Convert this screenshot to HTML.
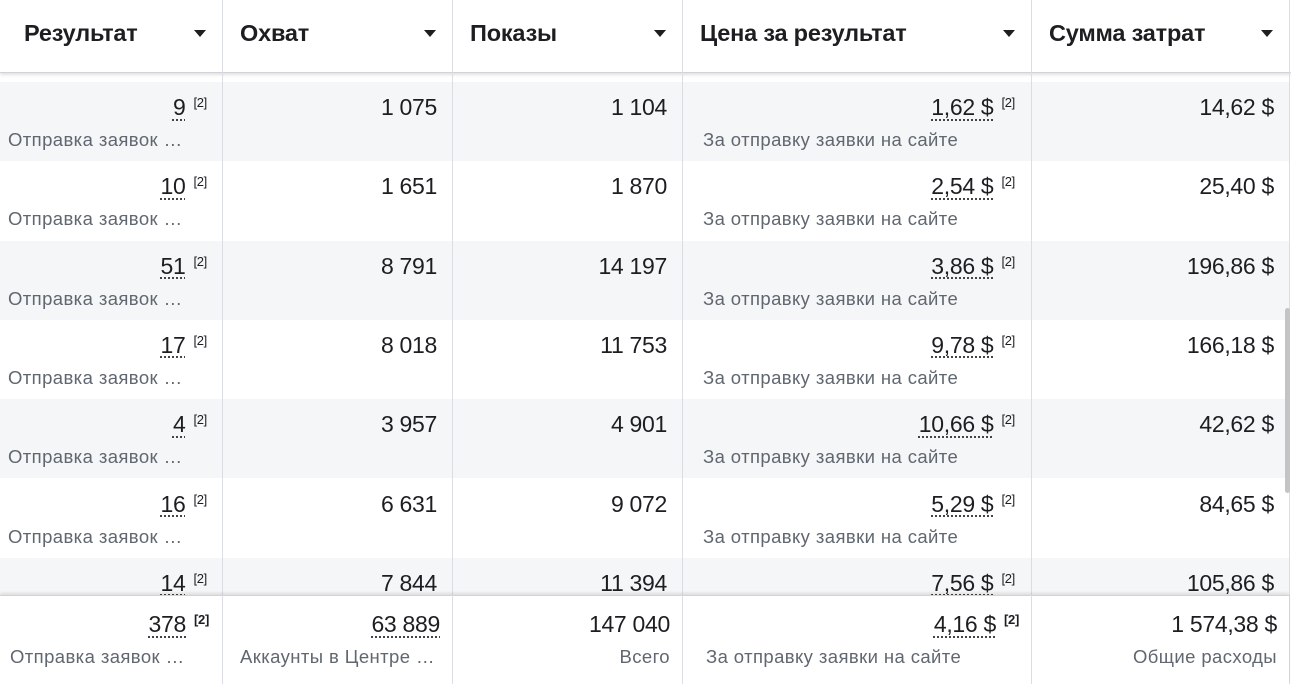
<!DOCTYPE html>
<html><head><meta charset="utf-8">
<style>
*{box-sizing:border-box;margin:0;padding:0}
body{width:1291px;height:684px;overflow:hidden;background:#fff;font-family:"Liberation Sans","Noto Sans CJK JP",sans-serif;color:#1c1e21;position:relative}
.abs{position:absolute}
.hdr{position:absolute;top:0;height:73px;font-weight:bold;font-size:23.5px;line-height:66px;padding-left:18px;border-right:1px solid #dadde1;letter-spacing:-0.2px}
.caret{position:absolute;top:30px;width:0;height:0;border-left:6px solid transparent;border-right:6px solid transparent;border-top:7px solid #1c1e21}
.vline{position:absolute;width:1px;background:#dadde1}
.num{position:absolute;font-size:23px;line-height:26px;text-align:right;white-space:nowrap;letter-spacing:-0.3px}
.u{text-decoration:underline dotted #444;text-decoration-thickness:2px;text-underline-offset:4px}
.sup{font-size:13px;position:relative;top:-8px;margin-left:8px}
.sub{position:absolute;font-size:18.5px;line-height:22px;color:#606770;white-space:nowrap;overflow:hidden;text-overflow:ellipsis;letter-spacing:0.4px}
</style></head><body>
<div class="abs" style="left:0;top:0;width:1291px;height:684px"></div>
<script>
const results=["9","10","51","17","4","16","14"];
const reach=["1 075","1 651","8 791","8 018","3 957","6 631","7 844"];
const impressions=["1 104","1 870","14 197","11 753","4 901","9 072","11 394"];
const cpr=["1,62 $","2,54 $","3,86 $","9,78 $","10,66 $","5,29 $","7,56 $"];
const spend=["14,62 $","25,40 $","196,86 $","166,18 $","42,62 $","84,65 $","105,86 $"];
const headers=["Результат","Охват","Показы","Цена за результат","Сумма затрат"];
const colL=[0,222,452,682,1031];
const colR=[222,452,682,1031,1289];
const root=document.body;
function add(cls,name,inter,style,html){const d=document.createElement('div');d.className=cls;d.style.cssText=style;if(html!==undefined)d.innerHTML=html;


root.appendChild(d);return d;}
const rowTop=82,rowH=79.3;
for(let i=0;i<results.length;i++){
  const y=rowTop+i*rowH;
  const h=Math.min(rowH,595-y);
  add('abs','table-row',"false",`left:0;top:${y}px;width:1289px;height:${h}px;background:${i%2==0?'#f5f6f7':'#fff'}`);
  add('num','result-value',"true",`right:${1291-207}px;top:${y+12}px`,`<span class="u">${results[i]}</span><span class="sup">[2]</span>`);
  if(y+59<595){add('sub','result-type',"false",`left:8px;top:${y+47}px;width:175px`,'Отправка заявок на сайте');}
  add('num','reach-value',"false",`right:${1291-437}px;top:${y+12}px`,reach[i]);
  add('num','impressions-value',"false",`right:${1291-667}px;top:${y+12}px`,impressions[i]);
  add('num','cost-per-result-value',"true",`right:${1291-1015}px;top:${y+12}px`,`<span class="u">${cpr[i]}</span><span class="sup">[2]</span>`);
  if(y+59<595){add('sub','cost-per-result-label',"false",`left:703px;top:${y+47}px`,'За отправку заявки на сайте');}
  add('num','amount-spent-value',"false",`right:${1291-1274}px;top:${y+12}px`,spend[i]);
}
add('abs','table-header',"false",`left:0;top:0;width:1291px;height:73px;background:#fff;border-bottom:1px solid #d0d3d8;box-shadow:0 2px 3px rgba(0,0,0,0.12)`);
for(let c=0;c<5;c++){
  add('hdr','column-header',"true",`left:${colL[c]}px;width:${colR[c]-colL[c]+1}px;${c==0?'padding-left:24px':''}`,headers[c]);
  add('caret','sort-caret',"true",`left:${colR[c]-28}px`);
}
for(let c=0;c<4;c++){add('vline','column-divider',"false",`left:${colR[c]}px;top:73px;height:611px`);}
add('vline','table-right-border',"false",`left:1289px;top:0;height:684px`);
add('abs','totals-row',"false",`left:0;top:595px;width:1289px;height:89px;background:#fff;border-top:1px solid #d0d3d8;box-shadow:0 -2px 3px rgba(0,0,0,0.1)`);
for(let c=0;c<4;c++){add('vline','column-divider',"false",`left:${colR[c]}px;top:595px;height:89px`);}
add('num','total-results',"true",`right:${1291-209}px;top:611px`,`<span class="u">378</span><span class="sup" style="font-weight:bold">[2]</span>`);
add('sub','total-results-label',"false",`left:10px;top:646px;width:175px`,'Отправка заявок на сайте');
add('num','total-reach',"true",`right:${1291-440}px;top:611px`,`<span class="u">63 889</span>`);
add('sub','total-reach-label',"false",`left:240px;top:646px;width:198px`,'Аккаунты в Центре аккаунтов');
add('num','total-impressions',"false",`right:${1291-670}px;top:611px`,'147 040');
add('sub','total-impressions-label',"false",`right:${1291-670}px;top:646px`,'Всего');
add('num','total-cost-per-result',"true",`right:${1291-1019}px;top:611px`,`<span class="u">4,16 $</span><span class="sup" style="font-weight:bold">[2]</span>`);
add('sub','total-cost-label',"false",`left:706px;top:646px`,'За отправку заявки на сайте');
add('num','total-spend',"false",`right:${1291-1277}px;top:611px`,'1 574,38 $');
add('sub','total-spend-label',"false",`right:${1291-1277}px;top:646px`,'Общие расходы');
add('abs','scrollbar',"true",`left:1285px;top:308px;width:5px;height:185px;background:#c4c4c4;border-radius:3px`);
</script>
</body></html>
